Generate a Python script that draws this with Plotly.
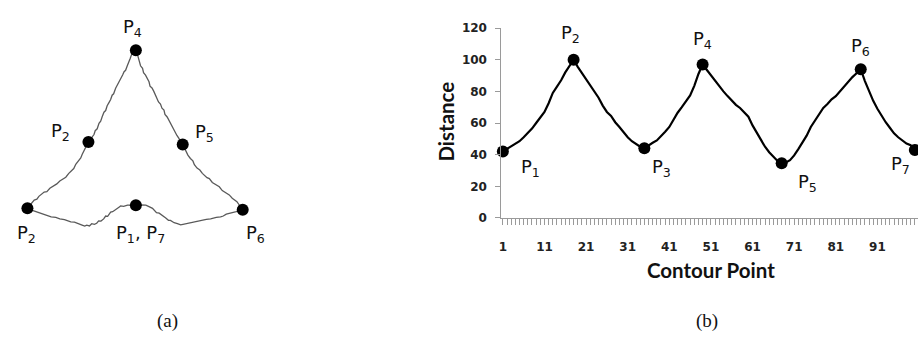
import plotly.graph_objects as go

# ---------------- (b) distance signature ----------------
contour_point = list(range(1, 101))
distance = [
    42, 43.5, 45, 46.5, 48.5, 51, 53.5, 56.5, 60, 63.5,
    67, 72.5, 79, 83, 87, 92, 96, 100, 95.5, 91.5,
    87.5, 83.5, 80, 76, 71, 67, 64.5, 60.5, 57.5, 54,
    51, 48.5, 46.5, 45, 44, 46, 47.5, 49, 51.5, 54.5,
    57.5, 62, 66.5, 70, 73.5, 77.5, 83.5, 91, 97, 93.5,
    90.5, 86.5, 83.5, 80, 77, 74, 71.5, 69.5, 67, 64,
    58.5, 54, 49.5, 45, 41.5, 38.5, 36, 34.5, 35, 36.5,
    39.5, 43.5, 48, 52, 57.5, 61.5, 65.5, 69.5, 72, 75,
    77, 80, 83, 86.5, 89, 91.5, 94, 86.5, 80, 74,
    69, 64.5, 60.5, 57, 53.5, 51, 49, 47, 46, 43,
]
key_index = [1, 18, 35, 49, 68, 87, 100]
key_names = ["P<sub>1</sub>", "P<sub>2</sub>", "P<sub>3</sub>", "P<sub>4</sub>",
             "P<sub>5</sub>", "P<sub>6</sub>", "P<sub>7</sub>"]
key_label_shift = [(28, -17), (-3, 26), (17, -20), (0, 24), (26, -20), (0, 22), (-14, -15)]
x_tick_values = [1, 11, 21, 31, 41, 51, 61, 71, 81, 91]
y_tick_values = [0, 20, 40, 60, 80, 100, 120]

# ---------------- (a) shape contour (image coordinates) ----------------
contour_x = [
    133.3, 128, 125, 121, 118, 116.7, 114, 111.7, 110, 108, 105, 103, 101, 98.3, 96, 94, 91.7,
    89, 86.7, 84, 82, 80, 77, 74, 71.7, 68, 64, 61.7, 57, 53, 48.3, 44, 40, 36, 31.7, 28,
    24.5, 28, 31.3, 34, 36, 41.3, 44, 47, 51.3, 54, 57, 61.3, 63, 66, 69.7, 71, 73, 76.3,
    78, 79.5, 81.3, 83, 85.7, 88, 91.3, 92.5, 94.5, 96.3, 98, 99.5, 101.3, 103, 104.5, 106.3,
    108, 109.5, 111, 113, 114.5, 116, 118, 120, 121.5, 123, 124.7, 126.5, 127.5, 129, 131,
    133.3, 135, 136.5, 138, 140, 141, 143, 144.7, 146.5, 147.5, 149.5, 151.3, 153, 154.5,
    156, 158, 159.5, 161.5, 162.5, 164.7, 166.5, 167.5, 169.5, 171.3, 173, 174.5, 176.5,
    178, 180.3, 182, 184, 185.5, 188, 190.5, 192, 194.7, 197.5, 200, 204.7, 207, 210,
    214.7, 217, 220, 224.7, 227, 230, 234.7, 237, 240.5, 234, 228.3, 224, 221, 218.3, 214,
    211, 208.3, 204, 200, 195, 191, 188, 185, 182, 178.3, 175, 171.7, 168, 166, 163.3, 160,
    156.7, 154, 152, 150, 147, 143.3, 138, 133.3,
]
contour_y = [
    206.7, 206.5, 206.7, 208, 207.5, 208.5, 210.5, 211.7, 213.5, 214, 218.3, 218, 221, 223.3,
    223, 225.5, 226.7, 226, 228.3, 227.5, 228.5, 227.7, 226.5, 225.5, 224.3, 224, 222.5,
    221.7, 221, 219.5, 219, 217.5, 216.5, 215, 213.3, 211.5,
    210, 205, 201.3, 200.5, 197.5, 193, 192.5, 189, 186.3, 184.5, 181.5, 178, 177.5, 173.5,
    169.7, 168.5, 164, 159.7, 157.5, 153.5, 149.7, 147.5, 140.7, 137.5, 133, 129, 127, 121.3,
    119, 114.5, 109.7, 108, 103, 99.7, 96.5, 92, 90.5, 84.7, 82, 78.5, 74.7, 71, 67.5, 66,
    61.3, 57.5, 54, 49.7, 47,
    45, 50, 55.5, 61.3, 64, 68.5, 71, 74.7, 78, 82.5, 84.5, 88, 92.5, 94.5, 99, 101.3, 105.5,
    107.5, 112, 114.7, 118.5, 121, 124, 128, 131.5, 134, 137, 140.5, 143.3, 147, 150, 154.5,
    158, 160.5, 164.5, 168, 170, 173.5, 178, 179, 183, 186.3, 187.5, 191.5, 194.7, 196,
    199.5, 203, 206.5, 211.5,
    213.5, 215, 216, 218, 219, 219.5, 220.5, 221, 221.5, 222.5, 223.3, 224, 225.5, 226,
    226.5, 227.3, 226, 225, 222.5, 222.5, 220, 217.5, 215, 214.5, 212, 210, 208.5, 206.7,
    206.5, 206.7,
]
corner_x = [133.3, 24.5, 85.7, 133.3, 180.3, 240.5]
corner_y = [206.7, 210, 140.7, 45, 143.3, 211.5]
corner_labels = ["P<sub>1</sub>, P<sub>7</sub>", "P<sub>2</sub>", "P<sub>2</sub>",
                 "P<sub>4</sub>", "P<sub>5</sub>", "P<sub>6</sub>"]
corner_label_x = [138, 24, 58, 130, 202, 253]
corner_label_y = [237, 237, 130, 22, 131, 237]

W, H = 918, 340
fig = go.Figure()

# contour outline
fig.add_trace(go.Scatter(x=contour_x, y=contour_y, mode="lines",
                         line=dict(color="#5a5a5a", width=1.3),
                         xaxis="x2", yaxis="y2", hoverinfo="skip"))
fig.add_trace(go.Scatter(x=corner_x, y=corner_y, mode="markers",
                         marker=dict(color="black", size=12),
                         xaxis="x2", yaxis="y2", hoverinfo="skip"))

# distance curve
fig.add_trace(go.Scatter(x=contour_point, y=distance, mode="lines",
                         line=dict(color="black", width=2.2),
                         xaxis="x", yaxis="y", cliponaxis=False))
fig.add_trace(go.Scatter(x=key_index, y=[distance[i - 1] for i in key_index], mode="markers",
                         marker=dict(color="black", size=12),
                         xaxis="x", yaxis="y", cliponaxis=False))

annotations = []
label_font = dict(family="DejaVu Sans", size=18, color="#111111")
for name, i, (dx, dy) in zip(key_names, key_index, key_label_shift):
    annotations.append(dict(x=i, y=distance[i - 1], xref="x", yref="y", text=name,
                            showarrow=False, xshift=dx, yshift=dy, font=label_font,
                            xanchor="center", yanchor="middle"))
for name, lx, ly in zip(corner_labels, corner_label_x, corner_label_y):
    annotations.append(dict(x=lx, y=ly, xref="x2", yref="y2", text=name,
                            showarrow=False, font=label_font,
                            xanchor="center", yanchor="middle"))

title_font = dict(family="Lato", size=20.5, color="#111111")
annotations.append(dict(x=445 / W, y=1 - 120 / H, xref="paper", yref="paper", text="<b>Distance</b>",
                        textangle=-90, showarrow=False, font=title_font,
                        xanchor="center", yanchor="middle"))
annotations.append(dict(x=710 / W, y=1 - 274 / H, xref="paper", yref="paper", text="<b>Contour Point</b>",
                        showarrow=False, font=title_font, xanchor="center", yanchor="middle"))
caption_font = dict(family="Liberation Serif", size=19, color="#111111")
annotations.append(dict(x=165 / W, y=1 - 327 / H, xref="paper", yref="paper", text="(a)",
                        showarrow=False, font=caption_font, xanchor="center", yanchor="middle"))
annotations.append(dict(x=706 / W, y=1 - 327 / H, xref="paper", yref="paper", text="(b)",
                        showarrow=False, font=caption_font, xanchor="center", yanchor="middle"))

tick_font = dict(family="DejaVu Sans", size=12, color="#222222", weight="bold")
fig.update_layout(
    width=W, height=H, margin=dict(l=0, r=0, t=0, b=0),
    paper_bgcolor="white", plot_bgcolor="white", showlegend=False,
    annotations=annotations,
    xaxis=dict(domain=[500 / W, 1], range=[0.64, 100.76], tickmode="array",
               tickvals=x_tick_values, ticktext=[str(v) for v in x_tick_values],
               tickfont=tick_font, ticks="outside", ticklen=6, tickcolor="#9a9a9a",
               showline=True, linecolor="#9a9a9a", linewidth=1, showgrid=False,
               zeroline=False, ticklabelstandoff=12,
               minor=dict(tick0=1, dtick=1, ticks="outside", ticklen=6,
                          tickcolor="#9a9a9a", showgrid=False)),
    yaxis=dict(domain=[1 - 220 / H, 1 - 22 / H], range=[0, 120], tickmode="array",
               tickvals=y_tick_values, tickfont=tick_font, ticks="outside", ticklen=5,
               tickcolor="#9a9a9a", showline=True, linecolor="#9a9a9a", linewidth=1,
               showgrid=False, zeroline=False, ticklabelstandoff=6),
    xaxis2=dict(domain=[0, 270 / W], range=[0, 270], visible=False),
    yaxis2=dict(domain=[0, 1], range=[H, 0], visible=False),
)

fig.write_html("out.html")
